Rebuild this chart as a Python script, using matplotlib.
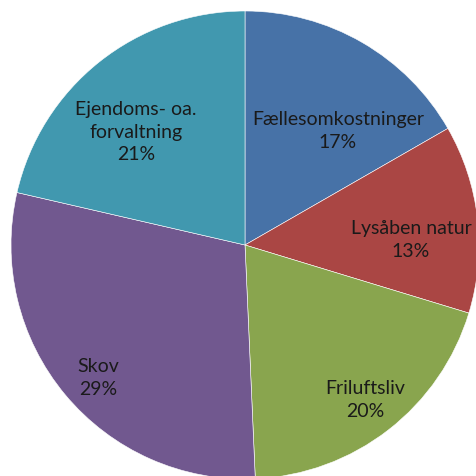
import matplotlib.pyplot as plt

# Fordeling af udgifter (andele)
kategorier = ['Fællesomkostninger', 'Lysåben natur', 'Friluftsliv', 'Skov',
              'Ejendoms- oa.\nforvaltning']
andele = [16.7, 13.0, 19.6, 29.3, 21.4]
farver = ['#4772A7', '#AA4644', '#89A54E', '#71588F', '#4198AF']

# label positions in units of the pie radius
label_pos = [(0.397, 0.491), (0.709, 0.026), (0.513, -0.658),
             (-0.628, -0.564), (-0.466, 0.487)]

fig = plt.figure(figsize=(4.76, 4.77), dpi=100)
ax = fig.add_axes([0.0, 0.0, 1.0, 1.0])

wedges, _ = ax.pie(andele, colors=farver, startangle=90, counterclock=False,
                   radius=1.0, center=(0, 0),
                   wedgeprops=dict(edgecolor='white', linewidth=0.4))

for navn, pct, (x, y) in zip(kategorier, andele, label_pos):
    ax.text(x, y, f'{navn}\n{round(pct)}%', ha='center', va='center',
            fontsize=14, family='Lato', color='#1a1a1a', linespacing=1.4)

# centre of the pie at (245, 246) px, radius ~234 px on a 476x477 canvas
ax.set_xlim(-245 / 234, (476 - 245) / 234)
ax.set_ylim(-(477 - 246) / 234, 246 / 234)
ax.set_aspect('equal')
ax.axis('off')

fig.savefig('out.png', dpi=100)
